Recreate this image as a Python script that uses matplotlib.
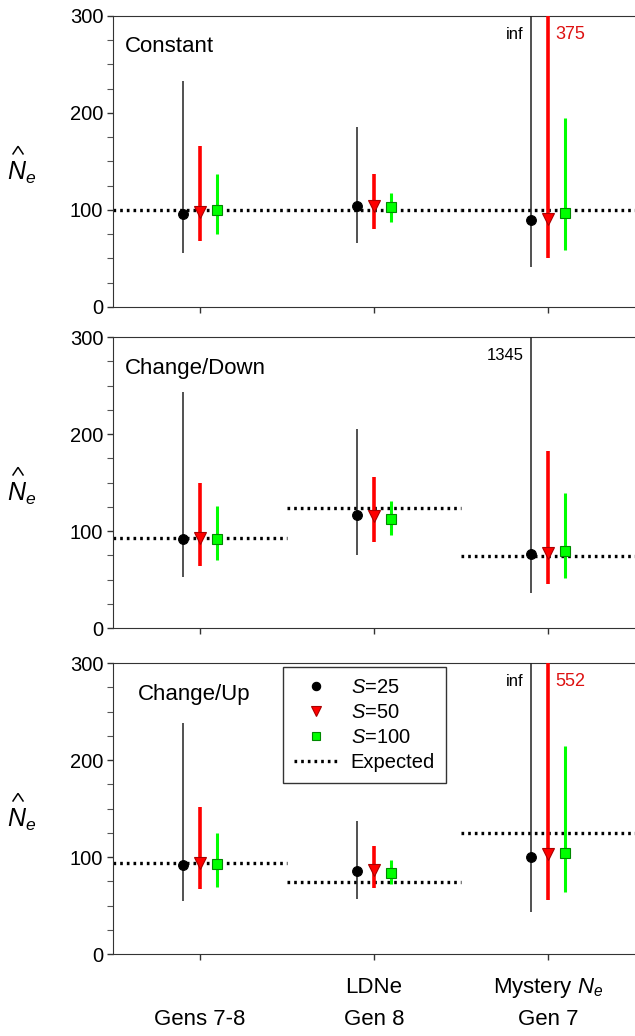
import matplotlib.pyplot as plt
import matplotlib.transforms as mtransforms
import numpy as np

plt.rcParams['font.family'] = ['Liberation Sans', 'DejaVu Sans']
plt.rcParams['mathtext.fontset'] = 'custom'
plt.rcParams['mathtext.rm'] = 'Liberation Sans'
plt.rcParams['mathtext.it'] = 'Liberation Sans:italic'

groups = [1, 2, 3]
panel_names = ['Constant', 'Change/Down', 'Change/Up']
# expected Ne per panel and group
expected = [[100, 100, 100],
            [93, 124, 74],
            [94, 74, 125]]

# point estimates per panel, rows: S=25, S=50, S=100
est = [[[96, 104, 90], [98, 104, 91], [99.5, 103.5, 97]],
       [[92, 116, 76.5], [93, 115.5, 77], [92, 112.5, 79]],
       [[92, 85.5, 100], [93.5, 86.5, 103], [93, 84, 104.5]]]
lower = [[[55.5, 66, 41], [68, 80.5, 50], [75, 88, 59]],
         [[53, 75, 36], [64, 89, 45], [70, 96, 52]],
         [[54.5, 57, 43], [67, 68, 56], [69.5, 72, 64]]]
upper = [[[233, 185.5, np.inf], [166, 137, 375], [137, 118, 195]],
         [[243, 205, 1345], [150, 156, 183], [126, 131, 139]],
         [[238, 137.5, np.inf], [152, 111, 552], [125, 97, 214.5]]]
# labels for bars running off the top: (panel, series, group, text)
offscale = [(0, 0, 2, 'inf'), (0, 1, 2, '375'),
            (1, 0, 2, '1345'),
            (2, 0, 2, 'inf'), (2, 1, 2, '552')]

series_labels = ['$S$=25', '$S$=50', '$S$=100']
offsets = [-0.1, 0.0, 0.1]
colors = ['black', '#ff0000', '#00ff00']
edges = ['black', '#aa0000', '#008800']
markers = ['o', 'v', 's']
msizes = [7, 8, 7]
lws = [1.1, 2.6, 2.2]
ecol = ['#222222', '#ff0000', '#00ff00']

fig = plt.figure(figsize=(6.35, 10.36), dpi=100)
tops = [0.9846, 0.6747, 0.36]
h = 0.2809
name_x = [0.57, 0.57, 0.64]
axes = []
for p in range(3):
    ax = fig.add_axes([0.178, tops[p] - h, 0.822, h])
    axes.append(ax)
    for k, g in enumerate(groups):
        ax.plot([g - 0.5, g + 0.5], [expected[p][k]] * 2, color='black',
                lw=2.4, ls=(0, (0.8, 1.2)), zorder=2)
    for s in range(3):
        xs = np.array(groups) + offsets[s]
        hi = np.nan_to_num(np.array(upper[p][s], dtype=float), posinf=1e5)
        ax.vlines(xs, lower[p][s], hi, color=ecol[s], lw=lws[s], zorder=3)
        ax.plot(xs, est[p][s], ls='none', marker=markers[s], ms=msizes[s],
                mfc=colors[s], mec=edges[s], mew=0.8, zorder=4)
    ax.set_xlim(0.5, 3.5)
    ax.set_ylim(0, 300)
    ax.set_yticks([0, 100, 200, 300])
    ax.set_yticks(np.arange(0, 301, 25), minor=True)
    ax.set_xticks(groups)
    ax.set_xticklabels([])
    ax.tick_params(direction='out', length=4, width=1, colors='#333333',
                   labelcolor='black', labelsize=14.5, pad=3)
    ax.tick_params(which='minor', direction='out', length=4, width=0.8,
                   colors='#555555')
    ax.spines['right'].set_visible(False)
    for sp in ['left', 'bottom', 'top']:
        ax.spines[sp].set_color('#333333')
    ax.text(name_x[p], 268, panel_names[p], fontsize=16, va='center', ha='left')
    # y label: N_e with a wide hat drawn above it
    ax.text(-0.175, 0.462, '$N_e$', transform=ax.transAxes, fontsize=18,
            ha='center', va='center')
    ax.plot([-0.1916, -0.182, -0.1724], [0.526, 0.552, 0.526],
            transform=ax.transAxes, color='black', lw=1.1, clip_on=False,
            solid_joinstyle='miter')

for p, s, k, txt in offscale:
    x = groups[k] + offsets[s]
    if s == 0:
        axes[p].text(x - 0.04, 281, txt, ha='right', va='center',
                     fontsize=12, color='black')
    else:
        axes[p].text(x + 0.04, 281, txt, ha='left', va='center',
                     fontsize=13, color='#dd1111')

ax = axes[2]
tr = mtransforms.blended_transform_factory(ax.transData, ax.transAxes)
ax.text(1, -0.225, 'Gens 7-8', transform=tr, ha='center', va='center', fontsize=16)
ax.text(2, -0.115, 'LDNe', transform=tr, ha='center', va='center', fontsize=16)
ax.text(2, -0.225, 'Gen 8', transform=tr, ha='center', va='center', fontsize=16)
ax.text(3, -0.115, 'Mystery $N_e$', transform=tr, ha='center', va='center', fontsize=16)
ax.text(3, -0.225, 'Gen 7', transform=tr, ha='center', va='center', fontsize=16)

handles = []
for s in range(3):
    h_, = ax.plot([], [], ls='none', marker=markers[s], ms=msizes[s] - 1,
                  mfc=colors[s], mec=edges[s], mew=0.8)
    handles.append(h_)
h_, = ax.plot([], [], color='black', lw=2.4, ls=(0, (0.8, 1.2)))
handles.append(h_)
leg = ax.legend(handles, series_labels + ['Expected'], loc='upper left',
                bbox_to_anchor=(0.326, 0.986), borderaxespad=0, fontsize=14.5,
                frameon=True, fancybox=False, edgecolor='#333333', framealpha=1,
                handlelength=2.2, handletextpad=0.6, labelspacing=0.3,
                borderpad=0.55)
leg.get_frame().set_linewidth(1.0)

fig.savefig('out.png', dpi=100)
